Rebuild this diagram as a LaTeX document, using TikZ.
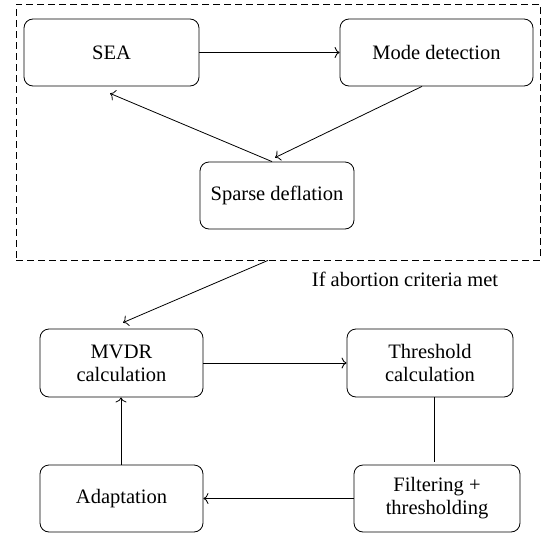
\documentclass[tikz,border=0pt]{standalone}
\usepackage{fontspec}
\setmainfont{Liberation Serif}
\usetikzlibrary{calc,arrows.meta}
\begin{document}
\begin{tikzpicture}[x=1pt,y=-1pt,
  box/.style={draw,rounded corners=9pt,line width=0.8pt,align=center,font=\fontsize{20.5}{23}\selectfont,inner sep=0pt},
  conn/.style={line width=0.8pt,-{To[length=5pt,width=11pt]}},
  plain/.style={line width=0.8pt}]
\useasboundingbox (0,0) rectangle (549,533);
\node[draw,dashed,dash pattern=on 7pt off 4pt,line width=0.8pt,minimum width=524pt,minimum height=256pt,inner sep=0pt] (frame) at (278,132) {};
\node[box,minimum width=175pt,minimum height=67pt] (sea) at (111.5,52.5) {SEA};
\node[box,minimum width=193pt,minimum height=67pt] (mode) at (436.5,52.5) {Mode detection};
\node[box,minimum width=154pt,minimum height=67pt] (sparse) at (277,195.5) {Sparse deflation};
\node[box,minimum width=163pt,minimum height=68pt] (mvdr) at (121.5,363) {MVDR\\calculation};
\node[box,minimum width=166pt,minimum height=68pt] (thr) at (430,363) {Threshold\\calculation};
\node[box,minimum width=166pt,minimum height=67pt] (filt) at (437,498.5) {Filtering +\\thresholding};
\node[box,minimum width=163pt,minimum height=67pt] (adapt) at (121.5,498.5) {Adaptation};
\node[font=\fontsize{20.5}{23}\selectfont,inner sep=0pt] (crit) at (405,279) {If abortion criteria met};
\draw[conn] (sea.east) -- (mode.west);
\draw[conn] ($(mode.south)+(-14.5,0)$) -- ($(sparse.north)+(-2,-4)$);
\draw[conn] ($(sparse.north)+(-5,0)$) -- ($(sea.south)+(-1.5,7)$);
\draw[conn] ($(frame.south)+(-10,0)$) -- ($(mvdr.north)+(1.5,-6)$);
\draw[conn] (mvdr.east) -- (thr.west);
\draw[plain] ($(thr.south)+(4,0)$) -- ($(filt.north)+(-3,-3)$);
\draw[conn] (filt.west) -- (adapt.east);
\draw[conn] ($(adapt.north)+(-0.5,0)$) -- ($(mvdr.south)+(-0.5,0)$);
\end{tikzpicture}
\end{document}
